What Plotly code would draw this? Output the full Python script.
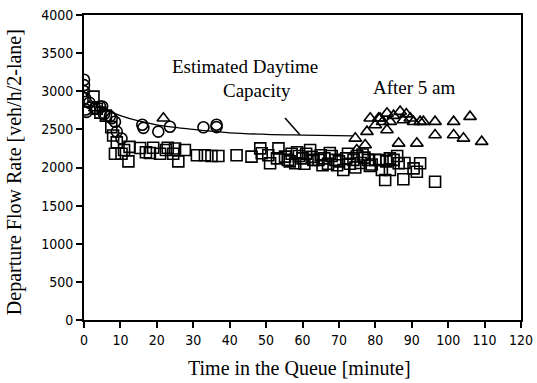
import plotly.graph_objects as go

# ---- data ----
circle_x = [0, 0, 0, 0.3, 0.5, 0.7, 1.5, 3, 4.4, 5, 5.5, 7.1, 7.6, 8.5, 9, 10.3,
            16.0, 16.3, 20.4, 23.6, 32.8, 36.4, 36.4]
circle_y = [3150, 3080, 3000, 2910, 2760, 2730, 2850, 2780, 2800, 2800, 2700, 2670, 2645, 2600, 2470, 2380,
            2560, 2520, 2470, 2535, 2527, 2530, 2560]

square_x = [2.6, 3.5, 4.5, 6, 7.5, 8, 9, 11, 12.5, 8.5, 10.3, 12.2, 15.4, 17, 18.1, 19,
            20.9, 22.5, 23, 24.5, 25.9, 25, 27.7, 31, 33.2, 35, 36.9, 41.9, 46, 48.4,
            48.8, 50.6, 51.1, 53, 53.4, 55.2, 56, 56.5, 57, 58, 58.5, 59, 60, 60.5, 61,
            62.1, 62.5, 63, 64.4, 65, 65.5, 66, 67, 67.5, 68, 69, 69.5, 70, 71.2, 72,
            72.5, 73, 74, 74.5, 75, 76, 76.5, 77, 78, 78.5, 79, 80, 81.3, 81.8, 82.7,
            83, 84, 84, 85, 86, 86.4, 87.7, 88, 90.5, 91.4, 92.3, 96.4]
square_y = [2930, 2770, 2720, 2680, 2530, 2420, 2330, 2230, 2270, 2180, 2180, 2080, 2255, 2200, 2190, 2260,
            2180, 2230, 2260, 2180, 2080, 2250, 2230, 2160, 2160, 2150, 2150, 2160, 2142, 2251,
            2186, 2160, 2055, 2120, 2251, 2142, 2100, 2080, 2180, 2055, 2200, 2150, 2120, 2050, 2180,
            2230, 2140, 2100, 2098, 2160, 2030, 2120, 2050, 2190, 2150, 2100, 2030, 2080, 1967, 2120,
            2180, 2050, 2100, 2000, 2150, 2060, 2170, 2130, 2100, 2020, 2040, 2100, 2098, 1967, 1836,
            2080, 1967, 2120, 2100, 2150, 2055, 1845, 2060, 1989, 1945, 2055, 1814]

tri_x = [3, 21.8, 74.5, 74.9, 77.2, 77.7, 78.6, 80, 80.9, 81.3, 82, 83.2, 83.2, 84.1, 85,
         86.4, 86.8, 87.7, 88.5, 89.6, 90.5, 91.4, 92.3, 93.2, 96.4, 96.4, 101.5, 101.5,
         104.2, 106, 109.2]
tri_y = [2780, 2645, 2382, 2230, 2295, 2470, 2645, 2557, 2645, 2645, 2600, 2710, 2492, 2601, 2680,
         2317, 2733, 2623, 2700, 2645, 2600, 2317, 2601, 2601, 2601, 2426, 2601, 2426,
         2382, 2667, 2339]

curve_x = [0, 2, 4, 7, 10, 15, 20, 30, 40, 50, 60, 74]
curve_y = [3000, 2880, 2800, 2740, 2680, 2610, 2560, 2500, 2455, 2435, 2425, 2415]

x_ticks = list(range(0, 121, 10))
y_ticks = list(range(0, 4001, 500))

serif = "Liberation Serif, Times New Roman, serif"
narrow = "DejaVu Sans Condensed, Liberation Sans Narrow, sans-serif"

fig = go.Figure()
mk = dict(color="black", size=11, line=dict(color="black", width=1.6))
fig.add_trace(go.Scatter(x=curve_x, y=curve_y, mode="lines", line=dict(color="black", width=1.3, shape="spline"),
                         showlegend=False, hoverinfo="skip"))
fig.add_trace(go.Scatter(x=square_x, y=square_y, mode="markers",
                         marker=dict(symbol="square-open", **mk), showlegend=False))
fig.add_trace(go.Scatter(x=circle_x, y=circle_y, mode="markers",
                         marker=dict(symbol="circle-open", **mk), showlegend=False))
fig.add_trace(go.Scatter(x=tri_x, y=tri_y, mode="markers",
                         marker=dict(symbol="triangle-up-open", **mk), showlegend=False))

axis_common = dict(showline=True, linecolor="black", linewidth=2, mirror=True,
                   ticks="outside", ticklen=6, tickwidth=1.5, tickcolor="black",
                   showgrid=False, zeroline=False, automargin=False,
                   tickfont=dict(family=narrow, size=14, color="black"))
fig.update_xaxes(range=[0, 120], tickvals=x_ticks, **axis_common)
fig.update_yaxes(range=[0, 4000], tickvals=y_ticks, **axis_common)

fig.add_annotation(x=44.3, y=3320, text="Estimated Daytime", showarrow=False,
                   font=dict(family=serif, size=19, color="black"))
fig.add_annotation(x=47.5, y=3005, text="Capacity", showarrow=False,
                   font=dict(family=serif, size=19, color="black"))
fig.add_annotation(x=90.8, y=3045, text="After 5 am", showarrow=False,
                   font=dict(family=serif, size=19, color="black"))
fig.add_shape(type="line", x0=55.2, y0=2650, x1=59.3, y1=2430, line=dict(color="black", width=1.5))

fig.add_annotation(xref="paper", yref="paper", x=0.494, y=-0.157, xanchor="center", yanchor="middle",
                   text="Time in the Queue [minute]",
                   showarrow=False, font=dict(family=serif, size=20, color="black"))
fig.add_annotation(xref="paper", yref="paper", x=-0.16, y=0.485, xanchor="center", yanchor="middle",
                   text="Departure Flow Rate [veh/h/2-lane]",
                   showarrow=False, textangle=-90, font=dict(family=serif, size=20, color="black"))

fig.update_layout(width=537, height=383, margin=dict(l=84, r=16, t=15, b=63, autoexpand=False),
                  paper_bgcolor="white", plot_bgcolor="white", showlegend=False)
fig.write_html("out.html")
